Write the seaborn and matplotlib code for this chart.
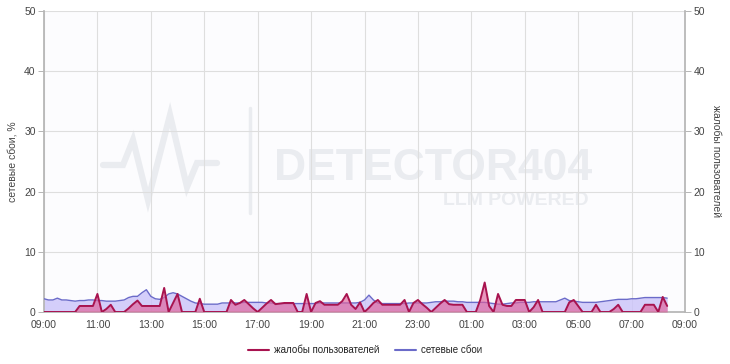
import numpy as np
import pandas as pd
import matplotlib
matplotlib.use("Agg")
import matplotlib.pyplot as plt
from matplotlib.lines import Line2D
import seaborn as sns

# ---- data (10-minute samples starting 09:00) ----
complaints = [
    0, 0, 0, 0, 0, 0,            # 09
    0, 0, 1.0, 1.0, 1.0, 1.0,    # 10
    3.0, 0, 0.5, 1.2, 0, 0,      # 11
    0, 0.6, 1.3, 1.9, 1.0, 1.0,  # 12
    1.0, 1.0, 1.0, 4.0, 0, 1.5,  # 13
    3.0, 0, 0, 0, 0, 2.2,        # 14
    0, 0, 0, 0, 0, 0,            # 15
    2.0, 1.2, 1.5, 2.0, 1.3, 0.6,  # 16
    0, 0.7, 1.4, 2.0, 1.3, 1.4,  # 17
    1.5, 1.5, 1.5, 0, 0, 3.0,    # 18
    0, 1.5, 1.8, 1.2, 1.2, 1.2,  # 19
    1.2, 1.8, 3.0, 1.2, 0.5, 1.6,  # 20
    0, 0.7, 1.5, 2.0, 1.2, 1.2,  # 21
    1.2, 1.2, 1.2, 2.0, 0, 1.5,  # 22
    2.0, 1.3, 0.7, 0, 0.7, 1.4,  # 23
    2.0, 1.3, 1.2, 1.2, 1.2, 0,  # 00
    0, 0, 2.0, 4.9, 1.0, 0,      # 01
    3.0, 1.2, 1.0, 1.0, 2.0, 2.0,  # 02
    2.0, 0, 0.8, 2.0, 0, 0,      # 03
    0, 0, 0, 0, 1.6, 2.0,        # 04
    1.0, 0, 0, 0, 1.2, 0,        # 05
    0, 0, 0.5, 1.2, 0, 0,        # 06
    0, 0, 0, 1.2, 1.2, 1.2,      # 07
    0, 2.5, 1.0,                 # 08
]
network = [
    2.2, 2.0, 2.0, 2.3, 2.0, 2.0,  # 09
    1.9, 1.8, 1.9, 1.9, 2.0, 2.0,  # 10
    1.9, 1.9, 1.8, 1.8, 1.8, 1.9,  # 11
    2.0, 2.4, 2.6, 2.6, 3.2, 3.7,  # 12
    2.6, 2.2, 2.1, 2.4, 3.0, 3.2,  # 13
    3.0, 2.6, 2.2, 1.8, 1.5, 1.4,  # 14
    1.3, 1.3, 1.3, 1.3, 1.5, 1.5,  # 15
    1.5, 1.5, 1.5, 1.6, 1.6, 1.6,  # 16
    1.6, 1.6, 1.5, 1.5, 1.4, 1.4,  # 17
    1.4, 1.4, 1.4, 1.4, 1.4, 1.4,  # 18
    1.4, 1.4, 1.5, 1.5, 1.5, 1.5,  # 19
    1.5, 1.5, 1.5, 1.5, 1.5, 1.6,  # 20
    2.0, 2.8, 2.0, 1.5, 1.4, 1.4,  # 21
    1.4, 1.4, 1.4, 1.4, 1.5, 1.5,  # 22
    1.5, 1.5, 1.5, 1.6, 1.7, 1.7,  # 23
    1.8, 1.8, 1.8, 1.7, 1.7, 1.6,  # 00
    1.6, 1.6, 1.6, 1.6, 1.5, 1.4,  # 01
    1.3, 1.3, 1.4, 1.5, 1.5, 1.6,  # 02
    1.6, 1.6, 1.7, 1.7, 1.7, 1.7,  # 03
    1.7, 1.7, 2.0, 2.3, 1.9, 1.8,  # 04
    1.7, 1.6, 1.6, 1.6, 1.6, 1.7,  # 05
    1.8, 1.9, 2.0, 2.1, 2.1, 2.1,  # 06
    2.2, 2.2, 2.3, 2.4, 2.4, 2.4,  # 07
    2.4, 2.4, 2.3,                 # 08
]
tick_labels = ["09:00", "11:00", "13:00", "15:00", "17:00", "19:00", "21:00",
               "23:00", "01:00", "03:00", "05:00", "07:00", "09:00"]
y_ticks = [0, 10, 20, 30, 40, 50]
series_names = ["жалобы пользователей", "сетевые сбои"]
left_label = "сетевые сбои, %"
right_label = "жалобы пользователей"

hours = np.arange(len(complaints)) / 6.0  # hours since 09:00
df = pd.DataFrame({"t": hours, "complaints": complaints, "network": network})

sns.set_theme(style="white")
plt.rcParams["font.family"] = ["Liberation Sans", "DejaVu Sans"]

C_LINE = "#a8134f"
C_FILL = "#e0609a"
N_LINE = "#6b6bc9"
N_FILL = "#cbc3fa"
GRID = "#dedede"
TXT = "#444444"

fig = plt.figure(figsize=(7.3, 3.64), dpi=100)
ax = fig.add_axes([44 / 730, 1 - 312 / 364, (685 - 44) / 730, (312 - 11) / 364])
ax.set_facecolor("#fcfcfe")
ax2 = ax.twinx()

# watermark (decoration, drawn under the grid, in figure coordinates)
wm = "#eaecf0"
tf = fig.transFigure
ax.text(274 / 730, 1 - 180 / 364, "DETECTOR404", fontsize=32, fontweight="bold",
        color=wm, family="Liberation Sans", transform=tf, zorder=0.2)
ax.text(589 / 730, 1 - 205 / 364, "LLM POWERED", fontsize=14, fontweight="bold",
        color=wm, family="Liberation Sans", ha="right", transform=tf, zorder=0.2)
zx = [103, 123, 133, 148, 170, 187, 197, 217]
zy = [165, 165, 140, 200, 115, 187, 163, 163]
ax.add_line(Line2D([x / 730 for x in zx], [1 - y / 364 for y in zy], color=wm,
                   lw=4.5, solid_joinstyle="miter", transform=tf, zorder=0.2))
ax.add_line(Line2D([250 / 730, 250 / 730], [1 - 108 / 364, 1 - 213 / 364],
                   color=wm, lw=2.5, transform=tf, zorder=0.2))

# network on left axis
ax.fill_between(df["t"], 0, df["network"], color=N_FILL, alpha=0.8, lw=0, zorder=2)
sns.lineplot(data=df, x="t", y="network", ax=ax, color=N_LINE, lw=1.0, zorder=3,
             legend=False)

# complaints on right axis
ax2.fill_between(df["t"], 0, df["complaints"], color=C_FILL, alpha=0.65, lw=0, zorder=2)
sns.lineplot(data=df, x="t", y="complaints", ax=ax2, color=C_LINE, lw=1.4, zorder=3,
             legend=False)

for a in (ax, ax2):
    a.set_xlim(0, 24)
    a.set_ylim(0, 50)
    a.set_yticks(y_ticks)
    for s in a.spines.values():
        s.set_visible(False)
ax.set_xticks(np.arange(0, 25, 2))
ax.set_xticklabels(tick_labels)
ax.grid(True, color=GRID, lw=0.8, zorder=0.5)
ax.set_axisbelow(True)
ax.spines["left"].set_visible(True)
ax.spines["left"].set_color("#b5b5b5")
ax.spines["bottom"].set_visible(True)
ax.spines["bottom"].set_color("#b5b5b5")
ax2.spines["right"].set_visible(True)
ax2.spines["right"].set_color("#b5b5b5")

ax.tick_params(axis="both", labelsize=7.5, colors=TXT, length=4, width=0.7,
               color="#b5b5b5", pad=2)
ax.tick_params(axis="x", length=0, pad=6)
ax2.tick_params(axis="y", labelsize=7.5, colors=TXT, length=4, width=0.7,
                color="#b5b5b5", pad=2)
ax.set_xlabel("")
ax.set_ylabel(left_label, fontsize=7.5, color=TXT)
ax2.set_ylabel(right_label, fontsize=7.5, color=TXT, rotation=270, va="bottom")
ax.yaxis.set_label_coords(-0.042, 0.5)
ax2.yaxis.set_label_coords(1.041, 0.5)

handles = [Line2D([0], [0], color=C_LINE, lw=1.5), Line2D([0], [0], color=N_LINE, lw=1.5)]
fig.legend(handles, series_names, loc="center", bbox_to_anchor=(0.5, 1 - 350 / 364),
           ncol=2, frameon=False, fontsize=7, handlelength=2.2, handletextpad=0.5,
           columnspacing=1.6, labelcolor="#222222")

fig.savefig("out.png", dpi=100, facecolor="white")
